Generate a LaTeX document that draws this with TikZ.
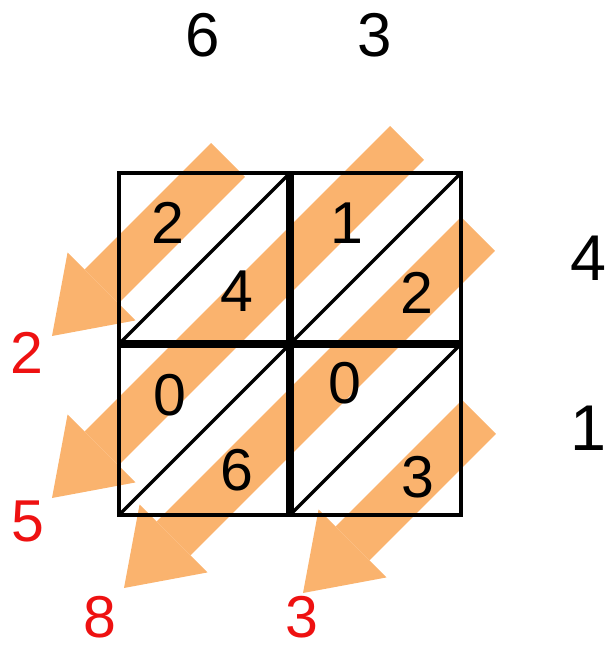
\documentclass[tikz,border=0pt]{standalone}
\usepackage{fontspec}
\setmainfont{Liberation Sans}
\usetikzlibrary{arrows.meta}
\definecolor{sumorange}{HTML}{FAB36E}
\definecolor{carry}{HTML}{EE1111}

\begin{document}
\begin{tikzpicture}[x=0.025cm, y=-0.025cm,
      stripe/.style={line width=1.2cm, sumorange,
                     -{Triangle[length=1.75cm, width=2.4cm, line width=0pt]}},
      digit/.style={inner sep=0pt, font=\fontsize{42}{48}\selectfont},
      factor/.style={inner sep=0pt, font=\fontsize{44}{50}\selectfont},
      bigfactor/.style={inner sep=0pt, font=\fontsize{46}{52}\selectfont},
      result/.style={inner sep=0pt, text=carry, font=\fontsize{42}{48}\selectfont},
      thin grid/.style={line width=2.8pt},
      thick grid/.style={line width=5pt},
      diag/.style={line width=2.4pt}]
    \useasboundingbox (0,0) rectangle (607,649);

    % diagonal sums, drawn first
    \coordinate (tail1) at (228,160);  \coordinate (tip1) at (52,336);
    \coordinate (tail2) at (407,143);  \coordinate (tip2) at (52,498);
    \coordinate (tail3) at (478,234);  \coordinate (tip3) at (124,588);
    \coordinate (tail4) at (479,417);  \coordinate (tip4) at (303,593);
    \draw[stripe] (tail1) -- (tip1);
    \draw[stripe] (tail2) -- (tip2);
    \draw[stripe] (tail3) -- (tip3);
    \draw[stripe] (tail4) -- (tip4);

    % the lattice
    \draw[thin grid] (119,173) rectangle (461,515);
    \draw[thick grid] (290,173) -- (290,515);
    \draw[thick grid] (119,344) -- (461,344);
    \draw[diag] (119,344) -- (290,173);
    \draw[diag] (119,515) -- (461,173);
    \draw[diag] (290,515) -- (461,344);

    % factors
    \node[factor] (top1) at (203,35) {6};
    \node[factor] (top2) at (375,35) {3};
    \node[bigfactor] (side1) at (588,258) {4};
    \node[bigfactor] (side2) at (588,428) {1};

    % partial products
    \node[digit] (a1) at (168,223) {2};
    \node[digit] (a2) at (237,291) {4};
    \node[digit] (b1) at (347,223) {1};
    \node[digit] (b2) at (417,293) {2};
    \node[digit] (c1) at (170,395) {0};
    \node[digit] (c2) at (237,470) {6};
    \node[digit] (d1) at (345,383) {0};
    \node[digit] (d2) at (418,477) {3};

    % answer
    \node[result] (ans1) at (27,353) {2};
    \node[result] (ans2) at (28,521) {5};
    \node[result] (ans3) at (100,617) {8};
    \node[result] (ans4) at (302,617) {3};
  \end{tikzpicture}
\end{document}
